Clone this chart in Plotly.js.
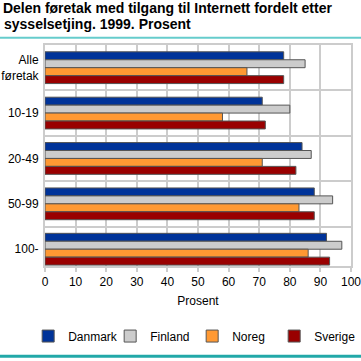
<!DOCTYPE html>
<html>
<head>
<meta charset="utf-8">
<script src="https://cdn.plot.ly/plotly-3.0.1.min.js"></script>
<style>html,body{margin:0;padding:0;background:#fff;overflow:hidden;}#chart{width:361px;height:361px;}</style>
</head>
<body>
<div id="chart"></div>
<script>
const categories = ["Alle<br>føretak", "10-19", "20-49", "50-99", "100-"];
const danmark = [78, 71, 84, 88, 92];
const finland = [85, 80, 87, 94, 97];
const noreg   = [66, 58, 71, 83, 86];
const sverige = [78, 72, 82, 88, 93];
const xTicks = [0, 10, 20, 30, 40, 50, 60, 70, 80, 90, 100];
const titleLine1 = "Delen føretak med tilgang til Internett fordelt etter";
const titleLine2 = "sysselsetjing. 1999. Prosent";

const seriesNames = ["Danmark", "Finland", "Noreg", "Sverige"];
const seriesValues = [danmark, finland, noreg, sverige];
const seriesColors = ["#003399", "#cccccc", "#ff9933", "#990000"];

const traces = seriesNames.map((n, i) => ({
  type: "bar",
  orientation: "h",
  name: n,
  y: categories,
  x: seriesValues[i],
  marker: {color: seriesColors[i], line: {color: "#555555", width: 1}},
  hoverinfo: "x+name"
}));

const layout = {
  width: 361, height: 361,
  margin: {l: 45, r: 10, t: 45, b: 92},
  paper_bgcolor: "#ffffff",
  plot_bgcolor: "#ffffff",
  font: {family: "Liberation Sans, Arial, sans-serif", size: 12, color: "#000"},
  title: {
    text: "<b>" + titleLine1 + "</b>",
    font: {family: "Liberation Sans, Arial, sans-serif", size: 14, color: "#000"},
    xref: "container", yref: "container",
    x: 0.008, xanchor: "left",
    y: 0.992, yanchor: "top",
    automargin: false
  },
  annotations: [
    {text: "<b>" + titleLine2 + "</b>", showarrow: false,
     xref: "paper", yref: "paper", x: -0.14, xanchor: "left",
     y: 1.094, yanchor: "middle",
     font: {family: "Liberation Sans, Arial, sans-serif", size: 14, color: "#000"}}
  ],
  barmode: "group",
  bargap: 0.3,
  bargroupgap: 0,
  showlegend: true,
  legend: {
    orientation: "h",
    traceorder: "normal",
    x: -0.055, xanchor: "left",
    y: -0.317, yanchor: "middle",
    font: {size: 12},
    entrywidth: 37,
    itemclick: false
  },
  xaxis: {
    range: [0, 100],
    automargin: false,
    tickvals: xTicks,
    ticktext: xTicks.map(String),
    ticklabeloverflow: "allow",
    showgrid: true,
    gridcolor: "#cccccc",
    gridwidth: 2,
    zeroline: false,
    showline: true,
    linecolor: "#cccccc",
    linewidth: 2,
    mirror: true,
    ticks: "outside",
    ticklen: 4,
    tickwidth: 2,
    tickcolor: "#cccccc",
    title: {text: "Prosent", font: {size: 12}, standoff: 8}
  },
  yaxis: {
    type: "category",
    automargin: false,
    range: [4.37, -0.5],
    tickson: "boundaries",
    showgrid: true,
    gridcolor: "#cccccc",
    gridwidth: 2,
    showline: true,
    linecolor: "#cccccc",
    linewidth: 2,
    mirror: true,
    ticks: "",
    ticklabelstandoff: 2
  },
  shapes: [
    {type: "rect", xref: "paper", yref: "paper", x0: -0.2, x1: 1.1, y0: 1.028, y1: 1.037,
     fillcolor: "#66cccc", line: {width: 0}},
    {type: "rect", xref: "paper", yref: "paper", x0: -0.2, x1: 1.1, y0: -0.402, y1: -0.415,
     fillcolor: "#22a8a8", line: {width: 0}}
  ]
};

Plotly.newPlot("chart", traces, layout, {displayModeBar: false, staticPlot: true});
</script>
</body>
</html>
